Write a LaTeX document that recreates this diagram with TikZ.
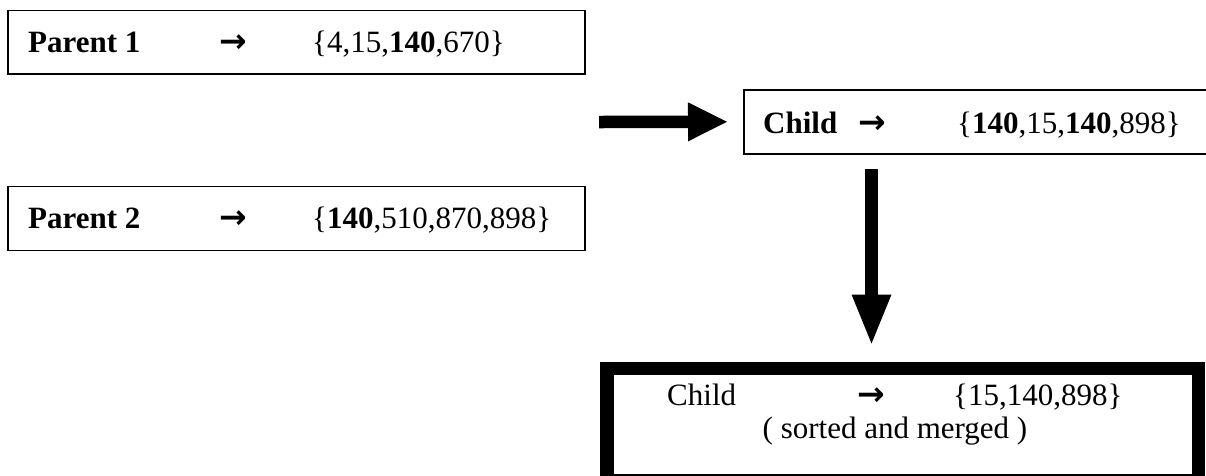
\documentclass[tikz,border=0pt]{standalone}
\usepackage{fontspec}
\setmainfont{Liberation Serif}
\newfontfamily\arrfont{DejaVu Sans}
\usetikzlibrary{arrows.meta}
\begin{document}
\begin{tikzpicture}[x=1pt,y=-1pt,
  txt/.style={inner sep=0pt,anchor=base west,font=\fontsize{31}{37}\selectfont},
  ctxt/.style={inner sep=0pt,anchor=base,font=\fontsize{31}{37}\selectfont},
  arr/.style={inner sep=0pt,anchor=base west,font=\arrfont\bfseries\fontsize{33}{38}\selectfont},
  thinbox/.style={draw,line width=1.6pt,inner sep=0pt,anchor=north west},
  heavybox/.style={draw,line width=13.5pt,inner sep=0pt,anchor=north west},
  fatarrow/.style={line width=#1}]
\useasboundingbox (0,0) rectangle (1206,475);
\clip (0,0) rectangle (1206,475);

% Parent 1
\node[thinbox,minimum width=577pt,minimum height=63.5pt] (p1) at (7,9.5) {};
\node[txt] (p1name) at (28,52) {\textbf{Parent 1}};
\node[arr] (p1arr) at (219,52) {→};
\node[txt] (p1set) at (312,52) {\{4,15,\textbf{140},670\}};

% Parent 2
\node[thinbox,minimum width=577pt,minimum height=64pt] (p2) at (7,185.5) {};
\node[txt] (p2name) at (28,228) {\textbf{Parent 2}};
\node[arr] (p2arr) at (219,228) {→};
\node[txt] (p2set) at (312,228) {\{\textbf{140},510,870,898\}};

% Child
\node[thinbox,minimum width=520pt,minimum height=64pt] (child) at (743,89) {};
\node[txt] (cname) at (763,133) {\textbf{Child}};
\node[arr] (carr) at (858,133) {→};
\node[txt] (cset) at (957,133) {\{\textbf{140},15,\textbf{140},898\}};

% Result
\node[heavybox,minimum width=591.5pt,minimum height=112.5pt] (res) at (600,361.5) {};
\node[txt] (rname) at (667,405.5) {Child};
\node[arr] (rarr) at (857,405.5) {→};
\node[txt] (rset) at (953,405.5) {\{15,140,898\}};
\node[ctxt] (rnote) at (895,438) {( sorted and merged )};

% Connectors
\coordinate (hs) at (599,122);
\coordinate (ht) at ([xshift=-16pt]child.west);
\draw[fatarrow=12.5pt,-{Triangle[length=39pt,width=39pt,line width=0pt]}] (hs) -- (ht);
\coordinate (vs) at (871.5,169);
\coordinate (vt) at ([yshift=18pt]res.north -| vs);
\draw[fatarrow=13pt,-{Triangle[length=49pt,width=40pt,line width=0pt]}] (vs) -- (vt);
\end{tikzpicture}
\end{document}
